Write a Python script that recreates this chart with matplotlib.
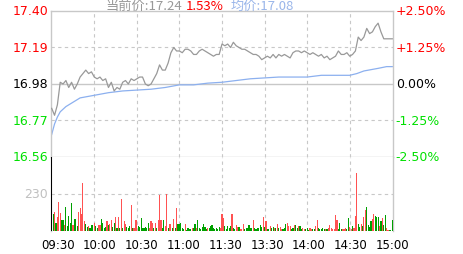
"""Intraday minute chart: price line, average line and volume bars."""
import matplotlib
matplotlib.use("Agg")
import matplotlib.pyplot as plt
import matplotlib.transforms as mtransforms

# ---- data -------------------------------------------------------------
pre_close = 16.98
last_price = 17.24
avg_price = 17.08
price_ticks = [17.40, 17.19, 16.98, 16.77, 16.56]
pct_labels = ["+2.50%", "+1.25%", "0.00%", "-1.25%", "-2.50%"]
time_labels = ["09:30", "10:00", "10:30", "11:00", "11:30",
               "13:30", "14:00", "14:30", "15:00"]

# price sampled every 2 minutes (minute index 0..240)
price_min = list(range(0, 241, 2))
price = [16.84, 16.80, 16.86, 16.99, 16.98, 17.00, 16.96, 16.99, 16.95, 16.98,
         17.02, 17.04, 17.06, 17.04, 17.05, 17.02, 17.01, 17.02, 17.00, 17.01,
         16.96, 16.99, 16.94, 16.96, 16.95, 16.99, 17.00, 16.98, 17.01, 17.00,
         17.01, 17.02, 17.02, 16.98, 16.97, 16.98, 17.01, 17.04, 17.09, 17.06,
         17.06, 17.10, 17.16, 17.19, 17.17, 17.17, 17.16, 17.18, 17.18, 17.17,
         17.15, 17.15, 17.17, 17.18, 17.17, 17.16, 17.15, 17.14, 17.15, 17.15,
         17.21, 17.20, 17.21, 17.19, 17.22, 17.20, 17.19, 17.18, 17.18, 17.17,
         17.16, 17.15, 17.15, 17.14, 17.12, 17.13, 17.14, 17.13, 17.15, 17.13,
         17.15, 17.14, 17.15, 17.14, 17.13, 17.16, 17.17, 17.17, 17.16, 17.17,
         17.16, 17.15, 17.16, 17.15, 17.14, 17.15, 17.13, 17.14, 17.12, 17.13,
         17.14, 17.17, 17.15, 17.15, 17.16, 17.14, 17.15, 17.17, 17.25, 17.23,
         17.25, 17.30, 17.27, 17.28, 17.31, 17.33, 17.28, 17.24, 17.24, 17.24,
         17.24]

avg_min = [0, 2, 4, 6, 10, 14, 20, 30, 40, 50, 60, 70, 80, 90, 100, 110,
           120, 130, 140, 150, 160, 170, 180, 190, 200, 210, 215, 220, 230,
           236, 240]
avg = [16.69, 16.75, 16.79, 16.82, 16.85, 16.87, 16.90, 16.915, 16.93,
       16.94, 16.945, 16.95, 16.96, 16.975, 16.975, 16.985, 16.99, 17.00,
       17.01, 17.015, 17.02, 17.02, 17.02, 17.03, 17.03, 17.03, 17.04,
       17.055, 17.07, 17.08, 17.08]

# volume per minute (0..240)
volume = [480, 103, 120, 52, 89, 182, 110, 66, 66, 35,
          149, 29, 93, 52, 172, 35, 72, 72, 29, 118,
          141, 103, 296, 62, 41, 25, 31, 21, 35, 37,
          52, 31, 21, 35, 35, 72, 52, 21, 25, 62,
          37, 41, 66, 25, 52, 87, 21, 87, 17, 197,
          21, 62, 41, 25, 17, 31, 161, 21, 21, 66,
          66, 31, 25, 79, 17, 21, 25, 17, 48, 17,
          62, 52, 17, 48, 21, 66, 223, 66, 17, 66,
          31, 228, 17, 45, 41, 17, 72, 21, 141, 41,
          41, 52, 17, 10, 41, 6, 21, 10, 10, 21,
          21, 41, 17, 66, 17, 10, 25, 41, 25, 10,
          17, 21, 31, 37, 17, 10, 17, 10, 25, 17,
          108, 79, 31, 10, 31, 17, 31, 108, 17, 10,
          35, 25, 25, 10, 10, 41, 10, 17, 21, 35,
          21, 21, 66, 21, 10, 17, 17, 35, 25, 87,
          25, 62, 10, 10, 31, 21, 25, 21, 17, 41,
          17, 25, 10, 10, 17, 41, 52, 31, 31, 10,
          17, 35, 35, 17, 31, 31, 10, 17, 10, 10,
          17, 4, 17, 10, 10, 10, 31, 66, 17, 10,
          10, 21, 10, 10, 10, 17, 35, 17, 10, 10,
          97, 66, 10, 52, 10, 10, 10, 17, 10, 83,
          25, 10, 31, 21, 93, 358, 45, 25, 45, 31,
          87, 128, 149, 37, 25, 62, 72, 103, 93, 87,
          87, 31, 62, 83, 37, 97, 17, 4, 4, 4,
          66]
# r = up minute, g = down minute, k = opening auction
direction = list(
    "kgrgrrrggr" "gggggrgggr" "rrrrggrggg" "rggrrggggr" "grrggrgrgr"
    "grrgggrgrr" "rggggggggr" "rrgrgrrrgg" "rrgrrgrgrg" "ggggrggggr"
    "ggrggggggg" "rggggggggr" "rrgggggrgg" "rrgrrrgggg" "ggrggggggr"
    "grggrggrgr" "grrgggrrrg" "grggrggrrg" "ggrrggrrgg" "gggrgrrrrr"
    "rrgggrrrgg" "rrgrrrggrg" "rrggggrrgg" "grgrggrrgg" "g"
)
bar_colors = {"r": "#ff5252", "g": "#00a000", "k": "#000000"}

# ---- figure -------------------------------------------------------------
W, H = 463, 255
fig = plt.figure(figsize=(W / 100, H / 100), dpi=100)
grid_c = "#c8c8c8"
red = "#ff0000"
green = "#00e000"

ax = fig.add_axes([51 / W, 1 - 158 / H, 342 / W, 146 / H])
axv = fig.add_axes([51 / W, 1 - 232 / H, 342 / W, 74 / H])

for a in (ax, axv):
    a.set_xlim(-0.5, 240.5)
    a.set_xticks([])
    a.set_yticks([])
    for s in a.spines.values():
        s.set_color(grid_c)
        s.set_linewidth(1)
    for m in range(30, 240, 30):
        a.axvline(m, color=grid_c, lw=0.8, ls=(0, (3, 3)), zorder=0)
axv.spines["top"].set_visible(False)
axv.spines["bottom"].set_visible(False)

# price panel
ax.set_ylim(16.56, 17.40)
ax.axhline(17.19, color=grid_c, lw=0.8, ls=(0, (3, 3)), zorder=0)
ax.axhline(16.77, color=grid_c, lw=0.8, ls=(0, (3, 3)), zorder=0)
ax.axhline(pre_close, color=grid_c, lw=1, zorder=0)
ax.plot(price_min, price, color="#999999", lw=0.9, zorder=3)
ax.plot(avg_min, avg, color="#8cb0ef", lw=0.9, zorder=2)

tick_colors = [red, red, "#000000", green, green]
for p, pct, c in zip(price_ticks, pct_labels, tick_colors):
    ax.text(-0.008, p, f"{p:.2f}", transform=ax.get_yaxis_transform(),
            ha="right", va="center", color=c, fontsize=9)
    ax.text(1.008, p, pct, transform=ax.get_yaxis_transform(),
            ha="left", va="center", color=c, fontsize=9)

# volume panel
axv.set_ylim(0, 460)
axv.axhline(230, color=grid_c, lw=0.8, ls=(0, (3, 3)), zorder=0)
axv.bar(range(len(volume)), volume, width=0.8,
        color=[bar_colors[d] for d in direction], zorder=3)
axv.text(-0.008, 230, "230", transform=axv.get_yaxis_transform(),
         ha="right", va="center", color="#c0c0c0", fontsize=9)

# time labels under volume panel
for i, lab in enumerate(time_labels):
    off = mtransforms.ScaledTranslation((6 - 0.7 * i) / 100, 0,
                                        fig.dpi_scale_trans)
    axv.text(i * 30, -0.09, lab, transform=axv.get_xaxis_transform() + off,
             ha="center", va="top", color="#000000", fontsize=8.5)

# header line
cjk = ["Noto Sans CJK SC", "DejaVu Sans"]
ty = 1 - 9.5 / H
fig.text(105 / W, ty, f"当前价:{last_price:.2f}", color="#999999",
         fontsize=9.5, family=cjk, va="baseline")
chg = (last_price - pre_close) / pre_close * 100
fig.text(186 / W, ty, f"{chg:.2f}%", color=red, fontsize=9.5,
         family=cjk, va="baseline")
fig.text(231 / W, ty, f"均价:{avg_price:.2f}", color="#9ab6ea",
         fontsize=9.5, family=cjk, va="baseline")

fig.savefig("out.png", dpi=100)
